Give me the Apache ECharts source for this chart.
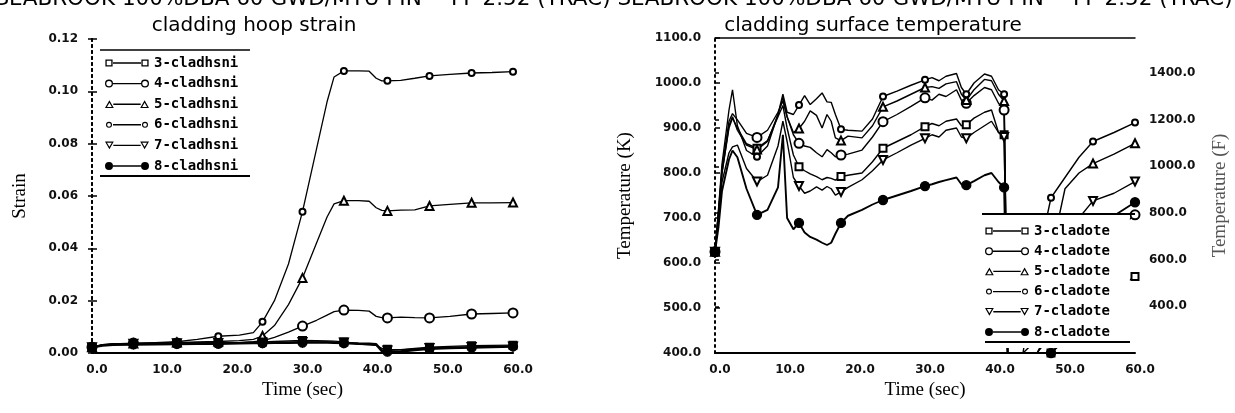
<!DOCTYPE html>
<html><head><meta charset="utf-8">
<script src="https://cdn.jsdelivr.net/npm/echarts@6/dist/echarts.min.js"></script>
<style>html,body{margin:0;padding:0;background:#fff}#c{width:1235px;height:413px}</style>
</head><body><div id="c"></div>
<script>
// ---------- left chart: cladding hoop strain ----------
const hoopTime = [0, 1.5, 3, 5.9, 9, 12.1, 15, 18, 21, 23, 24.3, 26, 28, 30, 32, 33.5, 34.5, 35.9, 38, 39.5, 40.5, 41.3, 42.1, 44, 46, 48.1, 51, 54.1, 57, 60];
const hoopMarks = [0, 5.9, 12.1, 18, 24.3, 30, 35.9, 42.1, 48.1, 54.1, 60];
const hoop3 = [0.0022,0.0031,0.0034,0.0036,0.0037,0.0038,0.0038,0.0039,0.0040,0.0041,0.0042,0.0044,0.0046,0.0048,0.0047,0.0046,0.0045,0.0042,0.0034,0.0031,0.0029,0.0018,0.0014,0.0013,0.0018,0.0022,0.0025,0.0028,0.0029,0.0030];
const hoop4 = [0.0022,0.0032,0.0035,0.0038,0.0037,0.0038,0.0039,0.0038,0.0040,0.0043,0.0046,0.0060,0.0080,0.0103,0.0125,0.0145,0.0158,0.0164,0.0163,0.0160,0.0140,0.0135,0.0134,0.0137,0.0135,0.0134,0.0140,0.0149,0.0151,0.0153];
const hoop5 = [0.0022,0.0030,0.0034,0.0036,0.0038,0.0040,0.0042,0.0044,0.0047,0.0052,0.0065,0.0105,0.0185,0.0287,0.0420,0.0520,0.0570,0.0582,0.0582,0.0580,0.0555,0.0545,0.0543,0.0546,0.0547,0.0562,0.0568,0.0574,0.0574,0.0575];
const hoop6 = [0.0022,0.0030,0.0034,0.0037,0.0040,0.0043,0.0052,0.0064,0.0068,0.0078,0.0119,0.0200,0.0340,0.0540,0.0780,0.0960,0.1055,0.1078,0.1078,0.1077,0.1050,0.1040,0.1040,0.1042,0.1050,0.1059,0.1065,0.1070,0.1072,0.1075];
const hoop7 = [0.0022,0.0030,0.0033,0.0035,0.0036,0.0037,0.0038,0.0038,0.0039,0.0040,0.0040,0.0041,0.0041,0.0042,0.0042,0.0042,0.0041,0.0040,0.0036,0.0034,0.0031,0.0012,0.0010,0.0012,0.0016,0.0019,0.0021,0.0023,0.0024,0.0025];
const hoop8 = [0.0022,0.0029,0.0032,0.0033,0.0034,0.0035,0.0036,0.0036,0.0037,0.0038,0.0038,0.0039,0.0039,0.0040,0.0040,0.0040,0.0039,0.0038,0.0036,0.0035,0.0033,0.0008,0.0005,0.0006,0.0012,0.0016,0.0019,0.0021,0.0023,0.0025];
const hoopNames = ['3-cladhsni','4-cladhsni','5-cladhsni','6-cladhsni','7-cladhsni','8-cladhsni'];

// ---------- right chart: cladding surface temperature (K) ----------
const tempTime = [0,0.5,1,2,2.5,3.2,4.5,6,7.5,9,9.7,10.3,11.2,12,12.8,13.6,14.5,15.3,16,16.6,17.2,18,19,21,22.5,24,26,28,30,31,32,33,34.5,35.2,35.9,37,38.5,39.5,40.5,41.3,41.8,42,44,46,48,50,52,54,57,60];
const tempMarks = [0, 6, 12, 18, 24, 30, 35.9, 41.3, 48, 54, 60];
const temp3 = [625,705,800,900,922,900,865,855,872,925,950,900,840,814,805,798,792,785,790,788,784,792,795,800,825,855,870,885,903,910,905,915,920,905,907,922,935,940,890,885,400,400,400,400,400,430,470,500,540,570];
const temp4 = [625,715,810,915,932,918,888,879,895,935,960,925,885,866,860,857,845,836,852,845,836,840,842,851,880,914,930,948,967,962,975,970,985,962,955,972,990,985,955,940,400,400,400,400,440,520,580,620,670,707];
const temp5 = [625,710,800,905,925,895,862,852,870,930,968,925,890,899,915,938,928,900,930,915,878,872,882,878,905,947,960,975,990,992,988,998,1003,975,962,985,1008,1005,975,960,400,400,400,430,620,765,800,821,842,866];
const temp6 = [625,720,820,940,985,905,850,836,860,930,975,935,930,951,972,952,965,978,958,957,930,897,895,893,920,970,982,995,1007,1012,1005,1015,1021,990,975,1000,1020,1015,985,975,400,400,400,600,745,790,835,870,890,912];
const temp7 = [625,700,780,845,858,862,810,781,795,860,915,870,790,771,755,760,769,762,770,765,751,758,768,785,805,829,845,862,877,885,880,895,900,880,877,890,905,915,890,880,400,400,400,400,460,600,700,738,755,781];
const temp8 = [625,680,760,830,850,835,765,707,718,768,885,700,675,689,668,658,652,645,640,645,665,689,705,718,730,740,750,760,771,775,780,784,790,775,773,782,795,800,780,768,400,400,400,400,400,430,560,650,705,735];
const tempNames = ['3-cladote','4-cladote','5-cladote','6-cladote','7-cladote','8-cladote'];
const fahrenheitTicks = [400, 600, 800, 1000, 1200, 1400];

const headerText = 'SEABROOK 100%DBA 60 GWD/MTU PIN -- FF 2.52 (TRAC)';

// ---------- styling helpers ----------
const markerStyle = [
  {sym:'emptyRect', size:7, rot:0, icon:'rect'},
  {sym:'emptyCircle', size:9, rot:0, icon:'circle'},
  {sym:'emptyTriangle', size:8, rot:0, icon:'tri'},
  {sym:'emptyCircle', size:6, rot:0, icon:'smallcircle'},
  {sym:'emptyTriangle', size:8, rot:180, icon:'invtri'},
  {sym:'circle', size:9, rot:0, icon:'dot'}
];
function shapePath(kind, cx) {
  const c = (r) => `M${cx-r},4 A${r},${r} 0 1,1 ${cx+r},4 A${r},${r} 0 1,1 ${cx-r},4 Z`;
  const ci = (r) => `M${cx-r},4 A${r},${r} 0 1,0 ${cx+r},4 A${r},${r} 0 1,0 ${cx-r},4 Z`;
  switch (kind) {
    case 'rect': return `M${cx-3.6},0.4 L${cx+3.6},0.4 L${cx+3.6},7.6 L${cx-3.6},7.6 Z M${cx-2.3},1.7 L${cx-2.3},6.3 L${cx+2.3},6.3 L${cx+2.3},1.7 Z`;
    case 'circle': return c(4) + ' ' + ci(2.7);
    case 'smallcircle': return c(3) + ' ' + ci(1.9);
    case 'tri': return `M${cx},0 L${cx+4.5},8 L${cx-4.5},8 Z M${cx},2.6 L${cx-2.5},6.8 L${cx+2.5},6.8 Z`;
    case 'invtri': return `M${cx-4.5},0 L${cx+4.5},0 L${cx},8 Z M${cx-2.5},1.2 L${cx},5.4 L${cx+2.5},1.2 Z`;
    default: return c(4);
  }
}
function iconPath(kind) {
  return 'path://M0,0 L0.01,0 Z M44,8 L43.99,8 Z ' + shapePath(kind, 4) + ' M8,3.3 L36,3.3 L36,4.7 L8,4.7 Z ' + shapePath(kind, 40);
}
function mkSeries(name, T, V, marks, k, xi, yi, width) {
  const m = markerStyle[k];
  return {
    type:'line', name, xAxisIndex:xi, yAxisIndex:yi,
    symbol:m.sym, symbolSize:m.size, symbolRotate:m.rot, showAllSymbol:true,
    data: T.map((t,i) => ({value:[t, V[i]], symbol: marks.includes(t) ? m.sym : 'none'})),
    lineStyle:{color:'#000', width},
    itemStyle:{color:'#000', borderColor:'#000', borderWidth:1.3},
    emphasis:{disabled:true}, silent:true, clip:true
  };
}

const tickFont = {fontFamily:'DejaVu Sans', fontSize:12, fontWeight:'bold', color:'#111'};
const nameFont = {fontFamily:'Liberation Serif', fontSize:19, color:'#000'};
const dotted = {color:'#000', width:2, type:[2,4]};

const hoopSets = [hoop3, hoop4, hoop5, hoop6, hoop7, hoop8];
const tempSets = [temp3, temp4, temp5, temp6, temp7, temp8];
const series = [];
hoopSets.forEach((v,k) => series.push(mkSeries(hoopNames[k], hoopTime, v, hoopMarks, k, 0, 0, k===5?2.6:1.3)));
tempSets.forEach((v,k) => series.push(mkSeries(tempNames[k], tempTime, v, tempMarks, k, 2, 2, k===5?1.9:1.4)));

const legendText = {fontFamily:'DejaVu Sans Mono', fontSize:14, fontWeight:'bold', color:'#000'};
const headStyle = {fontFamily:'DejaVu Sans', fontSize:21.5, fontWeight:'normal', color:'#000'};
const titleStyle = {fontFamily:'DejaVu Sans', fontSize:20, fontWeight:'normal', color:'#000'};

const option = {
  animation:false,
  backgroundColor:'#fff',
  title:[
    {text:headerText, left:303, top:-12, padding:0, textAlign:'center', textStyle:headStyle},
    {text:headerText, left:925, top:-12, padding:0, textAlign:'center', textStyle:headStyle},
    {text:'cladding hoop strain', left:254, top:16, padding:0, textAlign:'center', textStyle:titleStyle},
    {text:'cladding surface temperature', left:873, top:16, padding:0, textAlign:'center', textStyle:titleStyle}
  ],
  legend:[
    {orient:'vertical', left:100, top:50, padding:[6,6,6,5], itemGap:6.6, itemWidth:44, itemHeight:8,
     data: hoopNames.map((n,k) => ({name:n, icon:iconPath(markerStyle[k].icon)})),
     textStyle:legendText, itemStyle:{color:'#000', borderWidth:0}, selectedMode:false, backgroundColor:'#fff'},
    {orient:'vertical', left:980, top:215, padding:[9,20,9,5], itemGap:6.2, itemWidth:44, itemHeight:8,
     data: tempNames.map((n,k) => ({name:n, icon:iconPath(markerStyle[k].icon)})),
     textStyle:legendText, itemStyle:{color:'#000', borderWidth:0}, selectedMode:false, backgroundColor:'#fff'}
  ],
  graphic:[
    {type:'line', shape:{x1:100, y1:50, x2:250, y2:50}, style:{stroke:'#000', lineWidth:1.5}, z:100},
    {type:'line', shape:{x1:100, y1:176, x2:250, y2:176}, style:{stroke:'#000', lineWidth:2}, z:100},
    {type:'line', shape:{x1:982, y1:214, x2:1135, y2:214}, style:{stroke:'#000', lineWidth:2}, z:100},
    {type:'line', shape:{x1:985, y1:342, x2:1130, y2:342}, style:{stroke:'#000', lineWidth:2}, z:100}
  ],
  grid:[
    {left:92, right:722, top:39, bottom:60},
    {left:715, right:100, top:38, bottom:60}
  ],
  xAxis:[
    {gridIndex:0, type:'value', min:0, max:60, interval:10, position:'bottom',
     axisLine:{show:true, lineStyle:{color:'#000', width:2}}, axisTick:{show:false}, splitLine:{show:false},
     axisLabel:Object.assign({margin:11, padding:[0,0,0,10], formatter:v=>v.toFixed(1)}, tickFont),
     name:'Time (sec)', nameLocation:'middle', nameGap:27, nameTextStyle:nameFont},
    {gridIndex:0, type:'value', min:0, max:60, interval:10, position:'top',
     axisLine:{show:true, lineStyle:{color:'#000', width:1.5}}, axisTick:{show:false}, axisLabel:{show:false}, splitLine:{show:false}},
    {gridIndex:1, type:'value', min:0, max:60, interval:10, position:'bottom',
     axisLine:{show:true, lineStyle:{color:'#000', width:2}}, axisTick:{show:false}, splitLine:{show:false},
     axisLabel:Object.assign({margin:11, padding:[0,0,0,10], formatter:v=>v.toFixed(1)}, tickFont),
     name:'Time (sec)', nameLocation:'middle', nameGap:27, nameTextStyle:nameFont},
    {gridIndex:1, type:'value', min:0, max:60, interval:10, position:'top',
     axisLine:{show:true, lineStyle:{color:'#000', width:1.5}}, axisTick:{show:false}, axisLabel:{show:false}, splitLine:{show:false}}
  ],
  yAxis:[
    {gridIndex:0, type:'value', min:0, max:0.12, interval:0.02, position:'left',
     axisLine:{show:true, lineStyle:dotted}, axisTick:{show:true, inside:true, length:5, lineStyle:{color:'#000', width:1.5}},
     splitLine:{show:false}, axisLabel:Object.assign({margin:14, formatter:v=>v.toFixed(2)}, tickFont),
     name:'Strain', nameLocation:'middle', nameGap:62, nameTextStyle:nameFont},
    {gridIndex:0, type:'value', min:0, max:0.12, interval:0.02, position:'right',
     axisLine:{show:true, lineStyle:dotted}, axisTick:{show:true, inside:true, length:4, lineStyle:{color:'#000', width:1.5}},
     splitLine:{show:false}, axisLabel:{show:false}},
    {gridIndex:1, type:'value', min:400, max:1100, interval:100, position:'left',
     axisLine:{show:true, lineStyle:dotted}, axisTick:{show:true, inside:true, length:5, lineStyle:{color:'#000', width:1.5}},
     splitLine:{show:false}, axisLabel:Object.assign({margin:14, formatter:v=>v.toFixed(1)}, tickFont),
     name:'Temperature (K)', nameLocation:'middle', nameGap:80, nameTextStyle:nameFont},
    {gridIndex:1, type:'value', min:200, max:1550, position:'right',
     axisLine:{show:false}, axisTick:{show:true, inside:false, length:4, customValues:fahrenheitTicks, lineStyle:{color:'#000', width:1.5}},
     splitLine:{show:false},
     axisLabel:Object.assign({margin:14, customValues:fahrenheitTicks, formatter:v=>v.toFixed(1)}, tickFont),
     name:'Temperature (F)', nameLocation:'middle', nameGap:76, nameRotate:90,
     nameTextStyle:Object.assign({}, nameFont, {color:'#555'})}
  ],
  series
};
const chart = echarts.init(document.getElementById('c'), null, {renderer:'canvas'});
chart.setOption(option);
</script>
</body></html>
